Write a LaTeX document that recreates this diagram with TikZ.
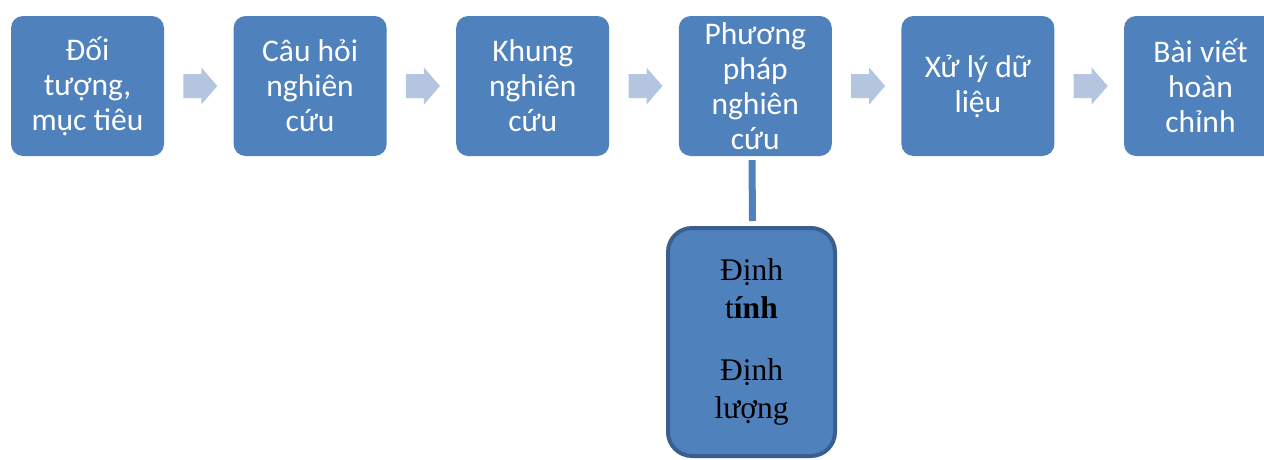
\documentclass[tikz,border=0pt]{standalone}
\usepackage{fontspec}
\setmainfont{Carlito}
\newfontfamily\serifvn{Liberation Serif}
\usetikzlibrary{calc}
\definecolor{boxblue}{HTML}{4F81BD}
\definecolor{arrowblue}{HTML}{B4C5E0}
\definecolor{darkborder}{HTML}{3A5F8F}
\tikzset{
  stepbox/.style={rectangle, rounded corners=12pt, fill=boxblue, text=white,
    minimum width=153pt, minimum height=140pt, inner sep=0pt, align=center,
    font=\fontsize{31.5pt}{35pt}\selectfont},
  methodbox/.style={rectangle, rounded corners=24pt, fill=boxblue, draw=darkborder,
    line width=4pt, minimum width=167pt, minimum height=228pt, inner sep=0pt,
    align=center, text=black, font=\serifvn\fontsize{31.5pt}{38.7pt}\selectfont},
  flowarrow/.style={fill=arrowblue},
  stem/.style={draw=boxblue, line width=7pt}
}
\begin{document}
\begin{tikzpicture}[x=1pt,y=-1pt]
\useasboundingbox (0,0) rectangle (1264,459);
\clip (0,0) rectangle (1264,459);
\node[stepbox] (b1) at (87.5,86) {Đối\\tượng,\\mục tiêu};
\node[stepbox] (b2) at (310.1,86) {Câu hỏi\\nghiên\\cứu};
\node[stepbox] (b3) at (532.7,86) {Khung\\nghiên\\cứu};
\node[stepbox] (b4) at (755.3,86) {Phương\\pháp\\nghiên\\cứu};
\node[stepbox] (b5) at (977.9,86) {Xử lý dữ\\liệu};
\node[stepbox] (b6) at (1200.5,86) {Bài viết\\hoàn\\chỉnh};
\foreach \a/\b in {b1/b2,b2/b3,b3/b4,b4/b5,b5/b6}{
  \coordinate (m-\a) at ($(\a.east)!0.5!(\b.west)+(1.5,0)$);
  \fill[flowarrow] ($(m-\a)+(-17,-12)$) -- ++(18,0) -- ++(0,-6.5) -- ++(16,18.5)
    -- ++(-16,18.5) -- ++(0,-6.5) -- ++(-18,0) -- cycle;
}
\node[methodbox] (q) at (751.5,342) {Định\\t\textbf{ính}\\[22.6pt]Định\\lượng};
\draw[stem] ($(b4.south)+(-3.3,4)$) -- ($(q.north)+(1.0,-5)$);
\end{tikzpicture}
\end{document}
